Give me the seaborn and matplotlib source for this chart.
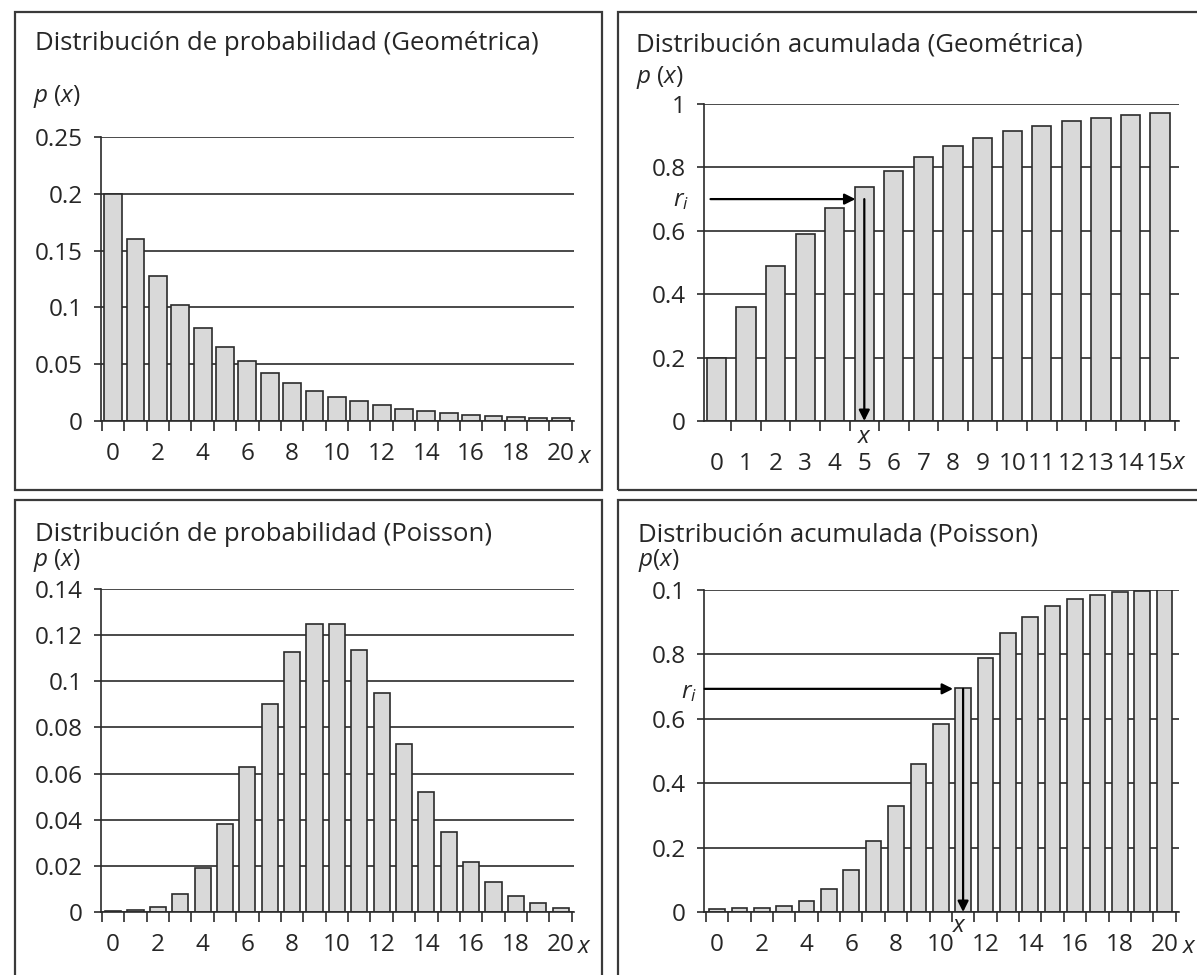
import matplotlib
matplotlib.use("Agg")
import matplotlib.pyplot as plt
import seaborn as sns
from matplotlib.patches import Rectangle
from matplotlib.ticker import FixedLocator

sns.set_style("white")
plt.rcParams['font.family'] = ['Open Sans', 'DejaVu Sans']
plt.rcParams['mathtext.fontset'] = 'custom'
plt.rcParams['mathtext.it'] = 'Open Sans:italic'
plt.rcParams['mathtext.rm'] = 'Open Sans'

# data
geo_x = list(range(21))
geo_p = [0.2, 0.16, 0.128, 0.1024, 0.082, 0.0655, 0.0524, 0.042, 0.0336, 0.0268,
         0.0215, 0.0172, 0.0137, 0.011, 0.0088, 0.007, 0.0056, 0.0045, 0.0036,
         0.0029, 0.0023]

geo_cum_x = list(range(16))
geo_cum = [0.2, 0.36, 0.488, 0.59, 0.672, 0.738, 0.79, 0.832, 0.866, 0.893,
           0.914, 0.931, 0.945, 0.956, 0.965, 0.972]

poi_x = list(range(21))
poi_p = [0.0005, 0.0008, 0.0023, 0.0076, 0.019, 0.038, 0.063, 0.09, 0.1126,
         0.125, 0.125, 0.1137, 0.095, 0.073, 0.052, 0.0347, 0.0217, 0.0128,
         0.0071, 0.0037, 0.0019]

poi_cum = [0.008, 0.012, 0.012, 0.018, 0.035, 0.07, 0.13, 0.22, 0.33, 0.46,
           0.585, 0.697, 0.79, 0.868, 0.915, 0.951, 0.973, 0.986, 0.993,
           0.997, 1.0]

geo_r, geo_sel = 0.70, 5
poi_r, poi_sel = 0.693, 11

W, H = 1197, 975
fig = plt.figure(figsize=(W / 100, H / 100), dpi=100)

FS = 17.5
TFS = 18.5
DARK = "#2b2b2b"
FILL = "#d9d9d9"


def fx(px):
    return px / W


def fy(py):
    return 1 - py / H


def box(l, t, r, b):
    fig.patches.append(Rectangle((fx(l), fy(b)), fx(r - l), (b - t) / H,
                                 transform=fig.transFigure, fill=False,
                                 edgecolor="#3a3a3a", linewidth=1.6))


def panel(ax_px, x, y, width, xlim, yticks, ylabels, every, label_pad):
    l, t, r, b = ax_px
    ax = fig.add_axes([fx(l), fy(b), fx(r - l), (b - t) / H])
    sns.barplot(x=x, y=y, ax=ax, color=FILL, edgecolor=DARK, linewidth=1.2,
                width=width, saturation=1)
    ax.set_xlim(*xlim)
    ax.set_ylim(yticks[0], yticks[-1])
    ax.set_xlabel("")
    ax.set_ylabel("")
    ax.set_axisbelow(True)
    ax.yaxis.grid(True, color=DARK, linewidth=1.2)
    ax.xaxis.grid(False)
    for s in ["top", "right"]:
        ax.spines[s].set_visible(False)
    for s in ["left", "bottom"]:
        ax.spines[s].set_color(DARK)
        ax.spines[s].set_linewidth(1.2)
    ax.set_yticks(yticks)
    ax.set_yticklabels(ylabels, fontsize=FS)
    ax.tick_params(axis="y", direction="out", length=5, width=1.2,
                   color=DARK, pad=8, left=True)
    ax.set_xticks(range(len(x)))
    ax.set_xticklabels([str(v) if v % every == 0 else "" for v in x], fontsize=FS)
    ax.tick_params(axis="x", which="major", length=0, pad=label_pad, bottom=True)
    ax.xaxis.set_minor_locator(FixedLocator([i - 0.5 for i in range(len(x) + 1)]))
    ax.tick_params(axis="x", which="minor", direction="out", length=7,
                   width=1.2, color=DARK, bottom=True)
    return ax


def arrow(ax, start, end):
    ax.annotate("", xy=end, xytext=start,
                arrowprops=dict(arrowstyle="-|>", color="black", lw=1.6,
                                mutation_scale=16, shrinkA=0, shrinkB=0))


# frames
box(15, 12, 602, 490)
box(618, 12, 1205, 490)
box(15, 500, 602, 990)
box(618, 500, 1205, 990)

# top-left
panel((101, 137, 574, 421), geo_x, geo_p, 0.8, (-0.54, 20.6),
      [0, 0.05, 0.1, 0.15, 0.2, 0.25], ["0", "0.05", "0.1", "0.15", "0.2", "0.25"],
      2, 15)
fig.text(fx(35), fy(50), "Distribución de probabilidad (Geométrica)", fontsize=TFS)
fig.text(fx(33), fy(102), "$p$ ($x$)", fontsize=FS)
fig.text(fx(586), fy(457), "$x$", fontsize=FS, ha="center", va="center")

# top-right
ax2 = panel((704, 104, 1179, 421), geo_cum_x, geo_cum, 0.65, (-0.42, 15.64),
            [0, 0.2, 0.4, 0.6, 0.8, 1], ["0", "0.2", "0.4", "0.6", "0.8", "1"],
            1, 22)
fig.text(fx(636), fy(51), "Distribución acumulada (Geométrica)", fontsize=TFS)
fig.text(fx(636), fy(83), "$p$ ($x$)", fontsize=FS)
fig.text(fx(1180), fy(463), "$x$", fontsize=FS, ha="center", va="center")
fig.text(fx(681), fy(200), "$r_i$", fontsize=FS, ha="center", va="center")
fig.text(fx(865), fy(437), "$x$", fontsize=FS, ha="center", va="center")
arrow(ax2, (-0.2, geo_r), (geo_sel - 0.3, geo_r))
arrow(ax2, (geo_sel, geo_r), (geo_sel, 0))

# bottom-left
panel((101, 589, 574, 912), poi_x, poi_p, 0.72, (-0.54, 20.6),
      [0, 0.02, 0.04, 0.06, 0.08, 0.1, 0.12, 0.14],
      ["0", "0.02", "0.04", "0.06", "0.08", "0.1", "0.12", "0.14"], 2, 15)
fig.text(fx(35), fy(541), "Distribución de probabilidad (Poisson)", fontsize=TFS)
fig.text(fx(33), fy(566), "$p$ ($x$)", fontsize=FS)
fig.text(fx(585), fy(947), "$x$", fontsize=FS, ha="center", va="center")

# bottom-right
ax4 = panel((704, 590, 1179, 912), poi_x, poi_cum, 0.7, (-0.58, 20.65),
            [0, 0.2, 0.4, 0.6, 0.8, 1], ["0", "0.2", "0.4", "0.6", "0.8", "0.1"],
            2, 15)
fig.text(fx(638), fy(541), "Distribución acumulada (Poisson)", fontsize=TFS)
fig.text(fx(638), fy(566), "$p$($x$)", fontsize=FS)
fig.text(fx(1190), fy(947), "$x$", fontsize=FS, ha="center", va="center")
fig.text(fx(689), fy(692), "$r_i$", fontsize=FS, ha="center", va="center")
fig.text(fx(960), fy(926), "$x$", fontsize=FS, ha="center", va="center")
arrow(ax4, (-0.55, poi_r), (poi_sel - 0.45, poi_r))
arrow(ax4, (poi_sel, poi_r), (poi_sel, 0))

fig.savefig("out.png", dpi=100)
